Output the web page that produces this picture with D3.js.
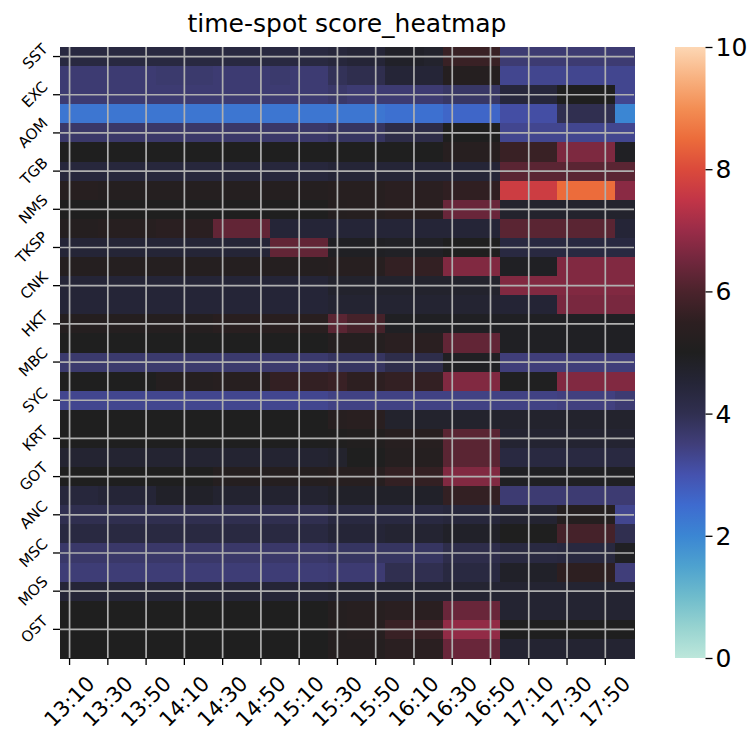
<!DOCTYPE html>
<html>
<head>
<meta charset="utf-8">
<script src="https://d3js.org/d3.v7.min.js"></script>
<style>
  body { margin: 0; background: #fff; }
  svg { display: block; }
  text { font-family: "DejaVu Sans", sans-serif; fill: #000; }
</style>
</head>
<body>
<svg id="chart" width="755" height="734"></svg>
<script>
// labelled spots (every other row carries a label)
const spots = ["SST", "EXC", "AOM", "TGB", "NMS", "TKSP", "CNK", "HKT",
               "MBC", "SYC", "KRT", "GOT", "ANC", "MSC", "MOS", "OST"];

const times = ["13:10", "13:20", "13:30", "13:40", "13:50", "14:00", "14:10", "14:20",
               "14:30", "14:40", "14:50", "15:00", "15:10", "15:20", "15:30", "15:40",
               "15:50", "16:00", "16:10", "16:20", "16:30", "16:40", "16:50", "17:00",
               "17:10", "17:20", "17:30", "17:40", "17:50", "18:00"];

// one row per line, one value per time slot
const scores = [
  [4.3,4.3, 4.3,4.3,4.3, 4.3,4.3,4.3, 4.3,4.3,4.3, 4.3,4.3,4.3, 4.4,4.5,4.5, 4.8,4.8,4.7, 5.7,5.7,5.7, 3.6,3.6,3.6, 3.6,3.6,3.6, 3.6],
  [3.6,3.6, 3.6,3.6,3.6, 3.65,3.65,3.65, 3.6,3.6,3.6, 3.65,3.6,3.6, 3.9,4.05,4.05, 4.5,4.5,4.5, 5.2,5.2,5.2, 3.3,3.3,3.3, 3.3,3.3,3.3, 3.3],
  [3.6,3.6, 3.6,3.6,3.6, 3.6,3.6,3.6, 3.6,3.6,3.6, 3.6,3.6,3.6, 3.7,3.6,3.6, 3.6,3.6,3.6, 3.75,3.75,3.75, 4.4,4.4,4.4, 5.0,5.0,5.0, 3.3],
  [2.3,2.3, 2.3,2.3,2.3, 2.3,2.3,2.3, 2.3,2.3,2.3, 2.3,2.3,2.3, 2.3,2.3,2.3, 2.4,2.4,2.4, 2.6,2.6,2.6, 3.1,3.1,3.1, 4.0,4.0,4.0, 2.0],
  [3.7,3.7, 3.7,3.7,3.7, 3.7,3.7,3.7, 3.7,3.7,3.7, 3.7,3.7,3.7, 3.8,3.8,3.8, 4.15,4.15,4.15, 5.0,5.0,5.0, 3.3,3.3,3.3, 3.3,3.3,3.3, 3.3],
  [5.0,5.0, 5.0,5.0,5.0, 5.0,5.0,5.0, 5.0,5.0,5.0, 5.0,5.0,5.0, 5.0,5.0,5.0, 5.0,5.0,5.0, 5.3,5.3,5.3, 5.7,5.7,5.7, 6.65,6.65,6.65, 4.9],
  [4.4,4.4, 4.4,4.4,4.4, 4.4,4.4,4.4, 4.4,4.4,4.4, 4.4,4.4,4.4, 4.5,4.5,4.5, 4.5,4.5,4.5, 4.5,4.5,4.5, 6.2,6.2,6.2, 6.2,6.2,6.2, 6.2],
  [5.3,5.3, 5.2,5.2,5.2, 5.2,5.2,5.2, 5.2,5.2,5.2, 5.2,5.2,5.2, 5.3,5.3,5.3, 5.4,5.4,5.4, 5.55,5.55,5.55, 7.7,7.7,7.7, 8.5,8.5,8.5, 6.8],
  [5.0,5.0, 5.0,5.0,5.0, 5.0,5.0,5.0, 5.0,5.0,5.0, 5.0,5.0,5.0, 5.2,5.25,5.25, 5.35,5.35,5.35, 6.4,6.4,6.4, 4.7,4.7,4.7, 4.7,4.7,4.7, 4.7],
  [5.2,5.2, 5.3,5.3,5.3, 5.4,5.4,5.4, 6.3,6.3,6.3, 4.5,4.5,4.5, 4.5,4.5,4.5, 4.5,4.5,4.5, 4.5,4.5,4.5, 6.2,6.2,6.2, 6.2,6.2,6.2, 4.5],
  [4.5,4.5, 4.5,4.5,4.5, 4.5,4.5,4.5, 4.5,4.5,4.5, 6.3,6.3,6.3, 4.9,4.9,4.9, 4.85,4.85,4.85, 5.0,5.0,5.0, 4.3,4.3,4.3, 4.3,4.3,4.3, 4.3],
  [5.2,5.2, 5.2,5.2,5.2, 5.2,5.2,5.2, 5.2,5.2,5.2, 5.2,5.2,5.2, 5.3,5.3,5.3, 5.6,5.6,5.6, 6.7,6.7,6.7, 4.9,4.9,4.9, 6.7,6.7,6.7, 6.7],
  [4.5,4.5, 4.5,4.5,4.5, 4.5,4.5,4.5, 4.5,4.5,4.5, 4.5,4.5,4.5, 4.7,4.7,4.7, 4.7,4.7,4.7, 4.7,4.7,4.7, 6.7,6.7,6.7, 6.7,6.7,6.7, 6.7],
  [4.5,4.5, 4.5,4.5,4.5, 4.5,4.5,4.5, 4.5,4.5,4.5, 4.5,4.5,4.5, 4.6,4.6,4.6, 4.6,4.6,4.6, 4.6,4.6,4.6, 4.55,4.55,4.55, 6.6,6.6,6.6, 6.6],
  [5.2,5.2, 5.2,5.2,5.2, 5.2,5.2,5.2, 5.35,5.35,5.35, 5.35,5.35,5.35, 6.2,5.9,5.9, 4.9,4.9,4.9, 4.9,4.9,4.9, 4.9,4.9,4.9, 4.9,4.9,4.9, 4.9],
  [5.0,5.0, 5.0,5.0,5.0, 5.0,5.0,5.0, 5.0,5.0,5.0, 5.0,5.0,5.0, 5.2,5.2,5.2, 5.4,5.4,5.4, 6.3,6.3,6.3, 4.9,4.9,4.9, 4.9,4.9,4.9, 4.9],
  [3.65,3.65, 3.65,3.65,3.65, 3.65,3.65,3.65, 3.65,3.65,3.65, 3.65,3.65,3.65, 3.8,3.8,3.8, 4.1,4.1,4.1, 4.9,4.9,4.9, 3.5,3.5,3.5, 3.5,3.5,3.5, 3.5],
  [5.0,5.0, 5.0,5.0,5.0, 5.2,5.2,5.2, 5.3,5.3,5.3, 5.6,5.6,5.6, 5.7,5.5,5.5, 5.6,5.6,5.6, 6.7,6.7,6.7, 4.95,4.95,4.95, 6.7,6.7,6.7, 6.7],
  [3.3,3.3, 3.3,3.3,3.3, 3.3,3.3,3.3, 3.3,3.3,3.3, 3.3,3.3,3.3, 3.4,3.4,3.4, 3.4,3.4,3.4, 3.4,3.4,3.4, 3.4,3.4,3.4, 3.45,3.45,3.45, 3.6],
  [5.0,5.0, 5.0,5.0,5.0, 5.0,5.0,5.0, 5.0,5.0,5.0, 5.0,5.0,5.0, 5.3,5.35,5.35, 4.7,4.7,4.7, 4.7,4.7,4.7, 4.7,4.7,4.7, 4.7,4.7,4.7, 4.7],
  [5.0,5.0, 5.0,5.0,5.0, 5.0,5.0,5.0, 5.0,5.0,5.0, 5.0,5.0,5.0, 5.05,5.1,5.1, 5.3,5.3,5.3, 6.2,6.2,6.2, 4.6,4.6,4.6, 4.6,4.6,4.6, 4.6],
  [4.6,4.6, 4.6,4.6,4.6, 4.6,4.6,4.6, 4.6,4.6,4.6, 4.6,4.6,4.6, 4.7,5.0,5.0, 5.2,5.2,5.2, 6.2,6.2,6.2, 4.3,4.3,4.3, 4.3,4.3,4.3, 4.3],
  [5.0,5.0, 5.0,5.0,5.0, 5.0,5.0,5.0, 5.2,5.2,5.2, 5.2,5.2,5.2, 5.3,5.3,5.3, 5.6,5.6,5.6, 6.7,6.7,6.7, 4.9,4.9,4.9, 4.9,4.9,4.9, 4.9],
  [4.4,4.4, 4.5,4.5,4.5, 4.8,4.8,4.8, 4.65,4.65,4.65, 4.65,4.65,4.65, 4.8,4.8,4.8, 4.8,4.8,4.8, 5.6,5.6,5.6, 3.6,3.6,3.6, 3.6,3.6,3.6, 3.6],
  [4.0,4.0, 4.0,4.0,4.0, 4.0,4.0,4.0, 4.0,4.0,4.0, 4.0,4.0,4.0, 4.3,4.3,4.3, 4.3,4.3,4.3, 4.4,4.4,4.4, 4.6,4.6,4.6, 5.2,5.2,5.2, 3.3],
  [4.3,4.3, 4.3,4.3,4.3, 4.3,4.3,4.3, 4.3,4.3,4.3, 4.3,4.3,4.3, 4.5,4.5,4.5, 4.6,4.6,4.6, 4.8,4.8,4.8, 5.0,5.0,5.0, 5.9,5.9,5.9, 4.0],
  [3.7,3.7, 3.7,3.7,3.7, 3.7,3.7,3.7, 3.7,3.7,3.7, 3.7,3.7,3.7, 3.8,3.8,3.8, 3.8,3.8,3.8, 4.1,4.1,4.1, 4.3,4.3,4.3, 4.35,4.35,4.35, 4.9],
  [3.55,3.55, 3.55,3.55,3.55, 3.55,3.55,3.55, 3.55,3.55,3.55, 3.55,3.55,3.55, 3.6,3.6,3.6, 4.0,4.0,4.0, 4.3,4.3,4.3, 4.8,4.8,4.8, 5.5,5.5,5.5, 3.5],
  [4.5,4.5, 4.5,4.5,4.5, 4.5,4.5,4.5, 4.5,4.5,4.5, 4.5,4.5,4.5, 4.6,4.6,4.6, 4.6,4.6,4.6, 4.6,4.6,4.6, 4.6,4.6,4.6, 4.6,4.6,4.6, 4.6],
  [5.0,5.0, 5.0,5.0,5.0, 5.0,5.0,5.0, 5.0,5.0,5.0, 5.0,5.0,5.0, 5.2,5.3,5.3, 5.4,5.4,5.4, 6.4,6.4,6.4, 4.6,4.6,4.6, 4.6,4.6,4.6, 4.6],
  [5.0,5.0, 5.0,5.0,5.0, 5.0,5.0,5.0, 5.0,5.0,5.0, 5.0,5.0,5.0, 5.2,5.3,5.3, 5.7,5.7,5.7, 6.9,6.9,6.9, 5.0,5.0,5.0, 5.0,5.0,5.0, 5.0],
  [5.0,5.0, 5.0,5.0,5.0, 5.0,5.0,5.0, 5.0,5.0,5.0, 5.0,5.0,5.0, 5.2,5.2,5.2, 5.4,5.4,5.4, 6.4,6.4,6.4, 4.6,4.6,4.6, 4.6,4.6,4.6, 4.6]
];

const cbarTicks = [0, 2, 4, 6, 8, 10];

// icefire-like colour stops, 0..10 every 0.5
const iceStops = ["#bde7db", "#97d3d0", "#6fbccc", "#4ea2cf", "#3b86d3", "#3e6bcf",
                  "#4552ae", "#403e7a", "#302f50", "#252537", "#1f1f1f", "#2d1f21",
                  "#4b232c", "#71273d", "#9a2c48", "#c23547", "#db4a3b", "#ec6c3b",
                  "#f38e54", "#f8b281", "#fdd7b4"];

const plotLeft = 60, plotRight = 634, plotTop = 47, plotBottom = 658;
const tickFont = 21, spotFont = 15, cbarFont = 25;
const tickLen = 7;

const svg = d3.select("#chart");

const x = d3.scaleBand().domain(times).range([plotLeft, plotRight]);
const y = d3.scaleBand().domain(d3.range(scores.length)).range([plotTop, plotBottom]);
const color = d3.scaleLinear()
    .domain(iceStops.map((c, i) => i * 0.5))
    .range(iceStops)
    .clamp(true);

// title
svg.append("text")
    .attr("x", (plotLeft + plotRight) / 2)
    .attr("y", 32)
    .attr("text-anchor", "middle")
    .attr("font-size", 25)
    .text("time-spot score_heatmap");

// cells
svg.append("g")
    .attr("shape-rendering", "crispEdges")
    .selectAll("g")
    .data(scores)
    .join("g")
    .attr("transform", (d, i) => `translate(0,${y(i)})`)
    .selectAll("rect")
    .data(d => d)
    .join("rect")
    .attr("x", (d, j) => x(times[j]))
    .attr("width", x.bandwidth() + 0.5)
    .attr("height", y.bandwidth() + 0.5)
    .attr("fill", d => color(d));

const xTickVals = times.filter((t, i) => i % 2 === 0);
const yTickVals = y.domain().filter(i => i % 2 === 0);

// grid lines through the labelled cells
const grid = svg.append("g")
    .attr("stroke", "#b0b0b0")
    .attr("stroke-width", 1.7);
grid.selectAll(".gv")
    .data(xTickVals)
    .join("line")
    .attr("class", "gv")
    .attr("x1", d => x(d) + x.bandwidth() / 2)
    .attr("x2", d => x(d) + x.bandwidth() / 2)
    .attr("y1", plotTop)
    .attr("y2", plotBottom);
grid.selectAll(".gh")
    .data(yTickVals)
    .join("line")
    .attr("class", "gh")
    .attr("y1", d => y(d) + y.bandwidth() / 2)
    .attr("y2", d => y(d) + y.bandwidth() / 2)
    .attr("x1", plotLeft)
    .attr("x2", plotRight);

// x axis
const xAxis = svg.append("g")
    .attr("transform", `translate(0,${plotBottom})`)
    .call(d3.axisBottom(x).tickValues(xTickVals).tickSize(tickLen));
xAxis.select(".domain").remove();
xAxis.selectAll("line").attr("stroke", "#000").attr("stroke-width", 1.3);
xAxis.selectAll("text")
    .attr("font-size", tickFont)
    .attr("font-family", null)
    .attr("y", null)
    .attr("dy", null)
    .attr("text-anchor", "middle")
    .attr("dominant-baseline", "central")
    .each(function() {
        const w = this.getComputedTextLength();
        const half = (w + tickFont * 1.1) * Math.SQRT1_2 / 2;
        d3.select(this).attr("transform", `translate(0,${tickLen + 7 + half}) rotate(-45)`);
    });

// y axis
const yAxis = svg.append("g")
    .attr("transform", `translate(${plotLeft},0)`)
    .call(d3.axisLeft(y).tickValues(yTickVals).tickSize(tickLen).tickFormat(i => spots[i / 2]));
yAxis.select(".domain").remove();
yAxis.selectAll("line").attr("stroke", "#000").attr("stroke-width", 1.3);
yAxis.selectAll("text")
    .attr("font-size", spotFont)
    .attr("font-family", null)
    .attr("x", null)
    .attr("dy", null)
    .attr("text-anchor", "middle")
    .attr("dominant-baseline", "central")
    .each(function() {
        const w = this.getComputedTextLength();
        const half = (w + spotFont * 1.1) * Math.SQRT1_2 / 2;
        d3.select(this).attr("transform", `translate(${-(tickLen + 2 + half)},0) rotate(-45)`);
    });

// colour bar
const cbLeft = 675, cbWidth = 30.5;
const cy = d3.scaleLinear().domain([0, 10]).range([plotBottom, plotTop]);
const grad = svg.append("defs").append("linearGradient")
    .attr("id", "icefire")
    .attr("x1", 0).attr("y1", 1).attr("x2", 0).attr("y2", 0);
grad.selectAll("stop")
    .data(iceStops)
    .join("stop")
    .attr("offset", (d, i) => i / (iceStops.length - 1))
    .attr("stop-color", d => d);
svg.append("rect")
    .attr("x", cbLeft)
    .attr("y", plotTop)
    .attr("width", cbWidth)
    .attr("height", plotBottom - plotTop)
    .attr("fill", "url(#icefire)");

const cAxis = svg.append("g")
    .attr("transform", `translate(${cbLeft + cbWidth},0)`)
    .call(d3.axisRight(cy).tickValues(cbarTicks).tickSize(tickLen).tickPadding(3));
cAxis.select(".domain").remove();
cAxis.selectAll("line").attr("stroke", "#000").attr("stroke-width", 1.3);
cAxis.selectAll("text")
    .attr("font-size", cbarFont)
    .attr("font-family", null)
    .attr("dy", null)
    .attr("dominant-baseline", "central");
</script>
</body>
</html>
